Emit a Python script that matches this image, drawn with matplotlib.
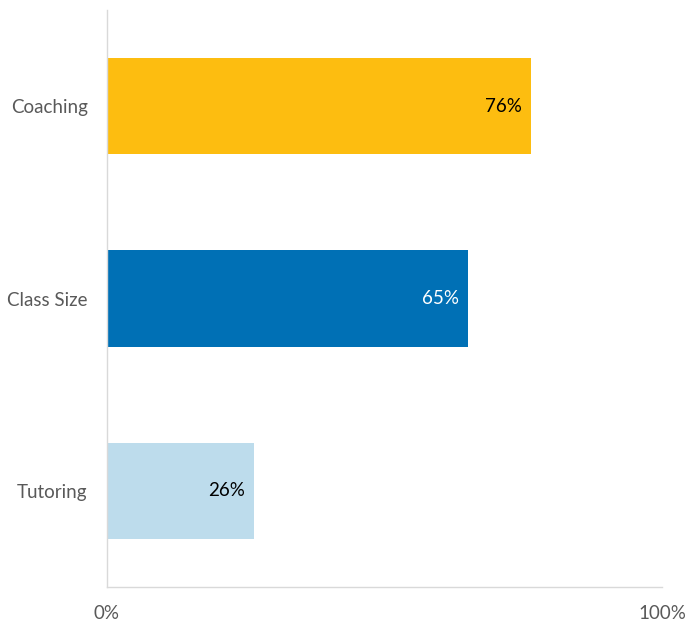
import matplotlib
matplotlib.use("Agg")
import matplotlib.pyplot as plt
from matplotlib.ticker import FuncFormatter

categories = ["Tutoring", "Class Size", "Coaching"]
values = [0.264, 0.650, 0.764]
colors = ["#BDDCEC", "#0070B5", "#FDBD10"]
label_colors = ["#000000", "#FFFFFF", "#000000"]
xticks = [0, 1]

plt.rcParams['font.family'] = ['Lato', 'DejaVu Sans']

fig = plt.figure(figsize=(6.86, 6.24), dpi=100)
ax = fig.add_axes([107/686, 37/624, 555/686, 577/624])

bars = ax.barh(range(len(categories)), values, height=0.5, color=colors)
for i, (v, c) in enumerate(zip(values, label_colors)):
    ax.text(v - 0.016, i, f"{round(v*100)}%", ha="right", va="center",
            fontsize=13.5, color=c)

ax.set_xlim(0, 1)
ax.set_ylim(-0.5, 2.5)
ax.set_yticks(range(len(categories)))
ax.set_yticklabels(categories, fontsize=13.5, color="#595959")
ax.set_xticks(xticks)
ax.xaxis.set_major_formatter(FuncFormatter(lambda x, p: f"{int(x*100)}%"))
for lbl in ax.get_xticklabels():
    lbl.set_fontsize(13.5)
    lbl.set_color("#595959")
ax.tick_params(axis="both", length=0)
ax.tick_params(axis="y", pad=14)
ax.tick_params(axis="x", pad=13)
for s in ["top", "right"]:
    ax.spines[s].set_visible(False)
for s in ["left", "bottom"]:
    ax.spines[s].set_color("#D9D9D9")
    ax.spines[s].set_linewidth(1)

fig.savefig("out.png", dpi=100)
